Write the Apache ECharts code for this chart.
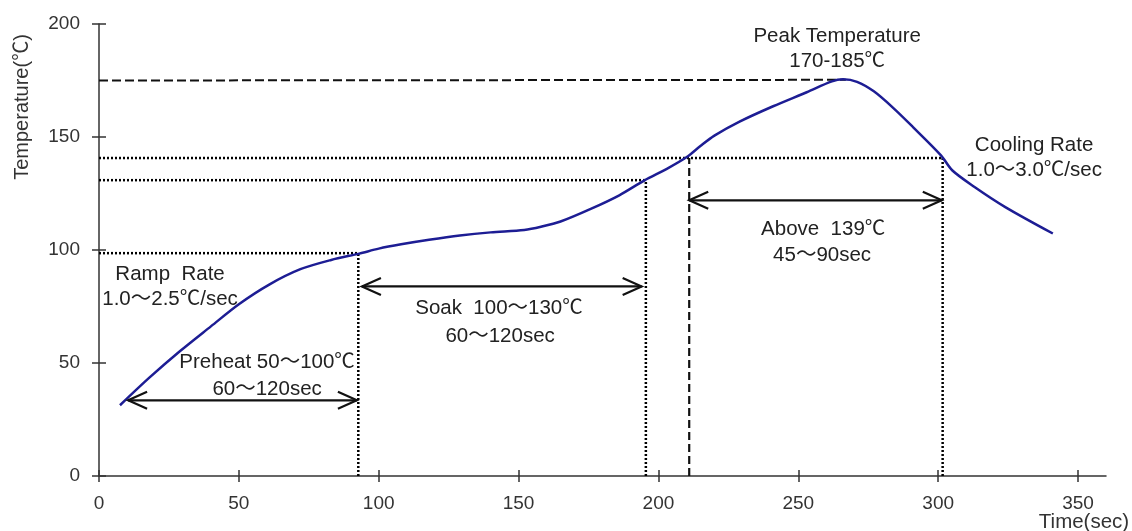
<!DOCTYPE html>
<html><head><meta charset="utf-8">
<script src="https://cdn.jsdelivr.net/npm/echarts@6/dist/echarts.min.js"></script>
<style>html,body{margin:0;padding:0;background:#fff}#c{width:1132px;height:531px}</style>
</head><body><div id="c"></div>
<script>
// ---- data ----
const profileTime = [7.5, 18, 29, 40, 50, 61, 72, 83, 93, 100, 108, 118, 129, 140, 152, 158, 165, 176, 186, 195, 203, 210, 215, 220, 229, 241, 253, 262, 266, 271, 277, 284, 291, 301, 305, 313, 324, 341];
const profileTemp = [31.3, 43.5, 55.3, 66.2, 76, 84.8, 91.5, 95.6, 98.4, 100.6, 102.5, 104.5, 106.4, 107.8, 108.9, 110.3, 112.6, 118.3, 124.2, 130.8, 135.9, 141, 146, 150.6, 156.8, 163.6, 169.8, 174.6, 175.5, 174.4, 170.2, 162.8, 154.4, 141.9, 135.3, 127.9, 119, 107.3];

const xTicks = [0, 50, 100, 150, 200, 250, 300, 350];
const yTicks = [0, 50, 100, 150, 200];

// horizontal dotted guides: level, end time
const hGuideLevels = [140.7, 130.9, 98.6];
const hGuideEnds = [301.6, 195.5, 92.7];
// vertical dotted guides: time, top temperature
const vGuideTimes = [92.7, 195.5, 301.6];
const vGuideTops = [98.6, 130.9, 140.7];
// dashed guides
const peakGuideTime = [0, 267];
const peakGuideTemp = [175, 175.3];
const above139Time = 211;
const above139Top = 140.7;

// double arrows: start, end, level
const arrowStarts = [10.4, 94, 211];
const arrowEnds = [92.2, 194, 301.3];
const arrowLevels = [33.5, 83.9, 122];

// annotation texts
const noteTexts = ['Peak Temperature', '170-185℃', 'Cooling Rate', '1.0～3.0℃/sec', 'Above  139℃', '45～90sec', 'Soak  100～130℃', '60～120sec', 'Ramp  Rate', '1.0～2.5℃/sec', 'Preheat 50～100℃', '60～120sec'];
const noteTimes = [263.9, 263.9, 334.3, 334.3, 258.9, 258.5, 143, 143.4, 25.4, 25.4, 60.1, 60.1];
const noteTemps = [194.6, 183.5, 146.3, 135.3, 109.2, 97.7, 74.1, 61.8, 89.2, 78.2, 50.3, 38.4];

// ---- chart ----
const FONT = "'Liberation Sans', Arial, 'Noto Sans CJK KR', sans-serif";
const AX = '#333';
const INK = '#111';
const chart = echarts.init(document.getElementById('c'), null, {renderer: 'canvas'});

const series = [];
series.push({
  type: 'line', data: profileTime.map((t, i) => [t, profileTemp[i]]),
  smooth: 0.3, symbol: 'none',
  lineStyle: {color: '#1d1d94', width: 2.5}, z: 5
});
hGuideLevels.forEach((lv, i) => series.push({
  type: 'line', data: [[0, lv], [hGuideEnds[i], lv]], symbol: 'none', silent: true,
  lineStyle: {color: '#000', width: 2.5, type: [2, 2]}
}));
vGuideTimes.forEach((t, i) => series.push({
  type: 'line', data: [[t, 0], [t, vGuideTops[i]]], symbol: 'none', silent: true,
  lineStyle: {color: '#000', width: 2.5, type: [2, 2]}
}));
series.push({
  type: 'line', data: peakGuideTime.map((t, i) => [t, peakGuideTemp[i]]), symbol: 'none', silent: true,
  lineStyle: {color: INK, width: 2, type: [9, 4]}
});
series.push({
  type: 'line', data: [[above139Time, 0], [above139Time, above139Top]], symbol: 'none', silent: true,
  lineStyle: {color: INK, width: 2.2, type: [8, 4]}
});
series.push({
  type: 'custom', silent: true, z: 6,
  data: arrowStarts.map((s, i) => [s, arrowEnds[i], arrowLevels[i]]),
  renderItem: (params, api) => {
    const a = api.coord([api.value(0), api.value(2)]);
    const b = api.coord([api.value(1), api.value(2)]);
    const L = 19, H = 8.5;
    const st = {stroke: '#111', lineWidth: 2.2, fill: null};
    return {type: 'group', children: [
      {type: 'polyline', shape: {points: [a, b]}, style: st},
      {type: 'polyline', shape: {points: [[a[0] + L, a[1] - H], a, [a[0] + L, a[1] + H]]}, style: st},
      {type: 'polyline', shape: {points: [[b[0] - L, b[1] - H], b, [b[0] - L, b[1] + H]]}, style: st}
    ]};
  }
});
series.push({
  type: 'custom', silent: true, z: 7,
  data: noteTimes.map((t, i) => [t, noteTemps[i]]),
  renderItem: (params, api) => {
    const p = api.coord([api.value(0), api.value(1)]);
    return {type: 'text', x: p[0], y: p[1], style: {
      text: noteTexts[params.dataIndex], font: '20.5px ' + FONT, fill: '#222',
      align: 'center', verticalAlign: 'middle'}};
  }
});

const baseX = {type: 'value', min: 0, max: 360, interval: 50, position: 'bottom', splitLine: {show: false}};
const baseY = {type: 'value', min: 0, max: 200, interval: 50, position: 'left', splitLine: {show: false}};

chart.setOption({
  animation: false,
  backgroundColor: '#fff',
  grid: {left: 99, right: 26, top: 24, bottom: 55, containLabel: false},
  xAxis: [
    Object.assign({}, baseX, {
      axisLine: {show: true, lineStyle: {color: AX, width: 1.5}},
      axisTick: {show: true, inside: false, length: 6, customValues: xTicks, lineStyle: {color: AX, width: 1.5}},
      axisLabel: {show: true, customValues: xTicks, margin: 18, color: '#333', fontSize: 19, fontFamily: FONT}
    }),
    Object.assign({}, baseX, {
      axisLine: {show: false},
      axisTick: {show: true, inside: true, length: 6, customValues: xTicks, lineStyle: {color: AX, width: 1.5}},
      axisLabel: {show: false}
    })
  ],
  yAxis: [
    Object.assign({}, baseY, {
      axisLine: {show: true, lineStyle: {color: AX, width: 1.5}},
      axisTick: {show: true, inside: false, length: 7, customValues: yTicks, lineStyle: {color: AX, width: 1.5}},
      axisLabel: {show: true, customValues: yTicks, margin: 19, color: '#333', fontSize: 19, fontFamily: FONT}
    }),
    Object.assign({}, baseY, {
      axisLine: {show: false},
      axisTick: {show: true, inside: true, length: 7, customValues: yTicks, lineStyle: {color: AX, width: 1.5}},
      axisLabel: {show: false}
    })
  ],
  graphic: [
    {type: 'text', x: 22, y: 107, rotation: Math.PI / 2, style: {text: 'Temperature(℃)', font: '20px ' + FONT, fill: '#333', align: 'center', verticalAlign: 'middle'}},
    {type: 'text', x: 1084, y: 522, style: {text: 'Time(sec)', font: '20.5px ' + FONT, fill: '#333', align: 'center', verticalAlign: 'middle'}}
  ],
  series: series
});
</script></body></html>
